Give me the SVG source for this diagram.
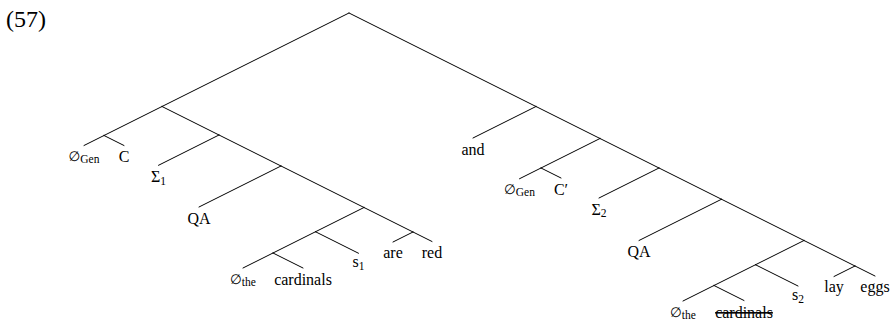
<svg xmlns="http://www.w3.org/2000/svg" width="894" height="325" viewBox="0 0 894 325">
  <style>
    .edge { stroke: #000; stroke-width: 1; fill: none; stroke-linecap: round; }
    .lbl { font-family: "Liberation Serif", "DejaVu Serif", serif; font-size: 16px; fill: #000; text-anchor: middle; }
    .sym { font-family: "DejaVu Sans", "Liberation Serif", serif; font-size: 13.5px; }
    .sub { font-size: 11.5px; }
    .num { font-family: "Liberation Serif", "DejaVu Serif", serif; font-size: 24px; fill: #000; }
    .struck { text-decoration: line-through; }
  </style>
  <rect width="894" height="325" fill="#fff"/>
  <text class="num" x="6" y="27">(57)</text>

  <!-- tree branches -->
  <g id="connectors">
    <!-- root -->
    <line class="edge" x1="349" y1="13" x2="162" y2="106.5"/>
    <line class="edge" x1="349" y1="13" x2="536" y2="106.5"/>
    <!-- first conjunct -->
    <line class="edge" x1="162" y1="106.5" x2="104" y2="135.5"/>
    <line class="edge" x1="104" y1="135.5" x2="84" y2="145.5"/>
    <line class="edge" x1="104" y1="135.5" x2="124" y2="145.5"/>
    <line class="edge" x1="162" y1="106.5" x2="219" y2="135"/>
    <line class="edge" x1="219" y1="135" x2="158.5" y2="165.3"/>
    <line class="edge" x1="219" y1="135" x2="281" y2="166"/>
    <line class="edge" x1="281" y1="166" x2="199" y2="207"/>
    <line class="edge" x1="281" y1="166" x2="364" y2="207.5"/>
    <line class="edge" x1="364" y1="207.5" x2="315.5" y2="231.75"/>
    <line class="edge" x1="364" y1="207.5" x2="413" y2="232"/>
    <line class="edge" x1="413" y1="232" x2="393" y2="242"/>
    <line class="edge" x1="413" y1="232" x2="432" y2="241.5"/>
    <line class="edge" x1="315.5" y1="231.75" x2="273" y2="253"/>
    <line class="edge" x1="315.5" y1="231.75" x2="358.5" y2="253.25"/>
    <line class="edge" x1="273" y1="253" x2="243" y2="268"/>
    <line class="edge" x1="273" y1="253" x2="303" y2="268"/>
    <!-- second conjunct -->
    <line class="edge" x1="536" y1="106.5" x2="473" y2="138"/>
    <line class="edge" x1="536" y1="106.5" x2="600" y2="138.5"/>
    <line class="edge" x1="600" y1="138.5" x2="541" y2="168"/>
    <line class="edge" x1="541" y1="168" x2="519.5" y2="178.75"/>
    <line class="edge" x1="541" y1="168" x2="561" y2="178"/>
    <line class="edge" x1="600" y1="138.5" x2="659" y2="168"/>
    <line class="edge" x1="659" y1="168" x2="599" y2="198"/>
    <line class="edge" x1="659" y1="168" x2="721.5" y2="199.25"/>
    <line class="edge" x1="721.5" y1="199.25" x2="639" y2="240.5"/>
    <line class="edge" x1="721.5" y1="199.25" x2="804" y2="240.5"/>
    <line class="edge" x1="804" y1="240.5" x2="755.5" y2="264.75"/>
    <line class="edge" x1="804" y1="240.5" x2="855" y2="266"/>
    <line class="edge" x1="855" y1="266" x2="834" y2="276.5"/>
    <line class="edge" x1="855" y1="266" x2="875" y2="276"/>
    <line class="edge" x1="755.5" y1="264.75" x2="714" y2="285.5"/>
    <line class="edge" x1="755.5" y1="264.75" x2="798" y2="286"/>
    <line class="edge" x1="714" y1="285.5" x2="683" y2="301"/>
    <line class="edge" x1="714" y1="285.5" x2="744" y2="300.5"/>
  </g>

  <!-- leaves, first conjunct -->
  <g id="gen1"><text class="lbl" x="84" y="161"><tspan class="sym">∅</tspan><tspan class="sub" dy="2">Gen</tspan></text></g>
  <g id="c1"><text class="lbl" x="124" y="162">C</text></g>
  <g id="sigma1"><text class="lbl" x="158.5" y="182">Σ<tspan class="sub" dy="2.5">1</tspan></text></g>
  <g id="qa1"><text class="lbl" x="199" y="223.5">QA</text></g>
  <g id="the1"><text class="lbl" x="243" y="284"><tspan class="sym">∅</tspan><tspan class="sub" dy="2">the</tspan></text></g>
  <g id="cardinals1"><text class="lbl" x="303" y="284.5">cardinals</text></g>
  <g id="s1"><text class="lbl" x="358.5" y="267">s<tspan class="sub" dy="2.5">1</tspan></text></g>
  <g id="are"><text class="lbl" x="393" y="257.5">are</text></g>
  <g id="red"><text class="lbl" x="432" y="257.5">red</text></g>

  <!-- coordinator -->
  <g id="and"><text class="lbl" x="473" y="154.5">and</text></g>

  <!-- leaves, second conjunct -->
  <g id="gen2"><text class="lbl" x="519.5" y="194"><tspan class="sym">∅</tspan><tspan class="sub" dy="2">Gen</tspan></text></g>
  <g id="c2"><text class="lbl" x="561" y="195">C′</text></g>
  <g id="sigma2"><text class="lbl" x="599" y="214.5">Σ<tspan class="sub" dy="2.5">2</tspan></text></g>
  <g id="qa2"><text class="lbl" x="639" y="257">QA</text></g>
  <g id="the2"><text class="lbl" x="683" y="317"><tspan class="sym">∅</tspan><tspan class="sub" dy="2">the</tspan></text></g>
  <g id="cardinals2"><text class="lbl struck" x="744" y="317.5">cardinals</text></g>
  <g id="s2"><text class="lbl" x="798" y="300">s<tspan class="sub" dy="2.5">2</tspan></text></g>
  <g id="lay"><text class="lbl" x="834" y="292">lay</text></g>
  <g id="eggs"><text class="lbl" x="875" y="292">eggs</text></g>
</svg>
